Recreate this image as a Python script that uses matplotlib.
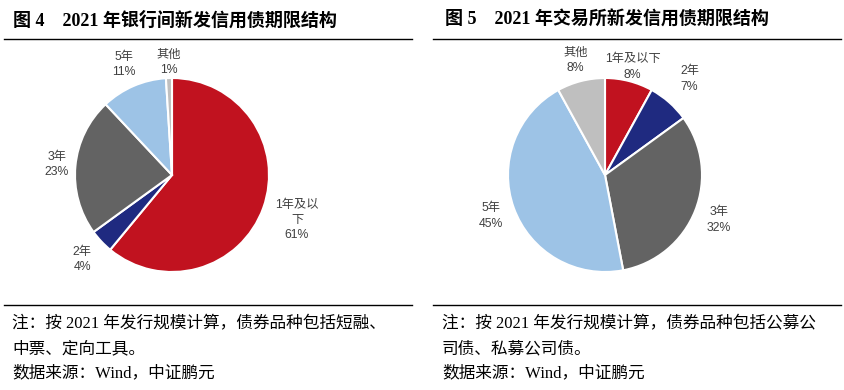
import numpy as np
import matplotlib.pyplot as plt
from matplotlib.lines import Line2D

# data
terms = ['1年及以下', '2年', '3年', '5年', '其他']
bank_share = [61, 4, 23, 11, 1]       # 图4 银行间
exch_share = [8, 7, 32, 45, 8]        # 图5 交易所
colors = ['#C1121F', '#1F2A80', '#636363', '#9DC3E6', '#BFBFBF']

W, H = 845, 390
fig = plt.figure(figsize=(W / 100, H / 100), dpi=100)

serif_cjk = ['Liberation Serif', 'Noto Sans CJK SC']
sans_cjk = ['Liberation Sans', 'Noto Sans CJK SC']


def fx(x):
    return x / W


def fy(y):
    return 1 - y / H


def hline(x0, x1, y, lw=1.0):
    fig.add_artist(Line2D([fx(x0), fx(x1)], [fy(y), fy(y)],
                          transform=fig.transFigure, color='black', lw=lw))


def draw_pie(cx, cy, r, shares, names, dists):
    ax = fig.add_axes([fx(cx - r), fy(cy + r), 2 * r / W, 2 * r / H])
    wedges, _ = ax.pie(shares, colors=colors, startangle=90, counterclock=False,
                       wedgeprops=dict(edgecolor='white', linewidth=1.5))
    # data labels outside each wedge, like excel "best fit"
    for w, n, v, d in zip(wedges, names, shares, dists):
        ang = np.deg2rad((w.theta1 + w.theta2) / 2)
        ax.text(d * np.cos(ang), d * np.sin(ang), f'{n}\n{v}%',
                ha='center', va='center', color='#404040', fontsize=8.8,
                family=sans_cjk, linespacing=1.35, clip_on=False)
    ax.set_xlim(-1, 1)
    ax.set_ylim(-1, 1)
    return ax


# left chart
bank_names = ['1年及以\n下', '2年', '3年', '5年', '其他']
draw_pie(172, 175, 97, bank_share, bank_names, [1.37, 1.27, 1.19, 1.24, 1.16])
# right chart
draw_pie(605, 175, 97, exch_share, terms, [1.15, 1.32, 1.26, 1.25, 1.22])

# titles
fig.text(fx(13), fy(20), '图 4    2021 年银行间新发信用债期限结构', ha='left', va='center',
         fontsize=13, fontweight='bold', family=serif_cjk)
fig.text(fx(445), fy(20), '图 5    2021 年交易所新发信用债期限结构', ha='left', va='center',
         fontsize=13, fontweight='bold', family=serif_cjk)

hline(4, 412, 39)
hline(433, 841, 39)
hline(4, 412, 305)
hline(433, 841, 305)

# notes
left_notes = ['注：按 2021 年发行规模计算，债券品种包括短融、',
              '中票、定向工具。',
              '数据来源：Wind，中证鹏元']
right_notes = ['注：按 2021 年发行规模计算，债券品种包括公募公',
               '司债、私募公司债。',
               '数据来源：Wind，中证鹏元']
for y, a, b in zip([324, 349, 373], left_notes, right_notes):
    fig.text(fx(12), fy(y), a, ha='left', va='center', fontsize=12, family=serif_cjk)
    fig.text(fx(442), fy(y), b, ha='left', va='center', fontsize=12, family=serif_cjk)

fig.savefig('out.png', dpi=100)
